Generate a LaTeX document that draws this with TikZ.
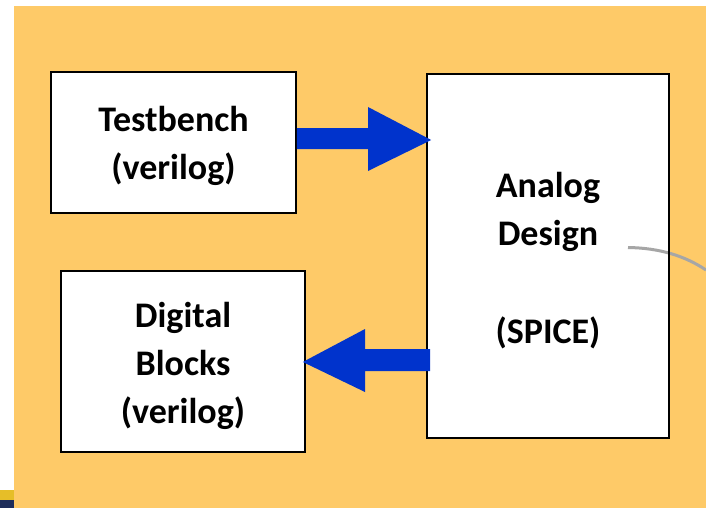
\documentclass[tikz,border=0pt]{standalone}
\usepackage{fontspec}
\setmainfont{Carlito}
\definecolor{panel}{RGB}{254,202,104}
\definecolor{flow}{RGB}{0,51,204}
\definecolor{wire}{RGB}{166,166,166}
\definecolor{edgeblue}{RGB}{30,45,90}
\definecolor{edgeyellow}{RGB}{230,190,40}
\begin{document}
\begin{tikzpicture}[x=1pt,y=-1pt,
  block/.style={draw=black,line width=1.6pt,fill=white},
  label/.style={font=\bfseries\fontsize{36}{48}\selectfont,align=center,text=black},
  fatarrow/.style={fill=flow,draw=none}]
\useasboundingbox (0,0) rectangle (706,508);
% background panel
\fill[white] (0,0) rectangle (706,508);
\fill[panel] (14,6) rectangle (706,508);
\fill[edgeyellow] (0,490) rectangle (14,500);
\fill[edgeblue] (0,500) rectangle (14,508);
% blocks
\node[block,minimum width=245pt,minimum height=141pt] (tb) at (173.5,142.5) {};
\node[block,minimum width=242pt,minimum height=364pt] (ad) at (548,256) {};
\node[block,minimum width=244pt,minimum height=181pt] (db) at (183,361.5) {};
% wire leaving the analog block
\coordinate (wireend) at (706,270);
\draw[wire,line width=3pt] (628,247.5) .. controls (660,248) and (685,256) .. (wireend);
\draw[black,line width=1.6pt] (669,74) -- (669,438);
% labels
\node[label] (tbtext) at (173.5,146) {Testbench\\(verilog)};
\node[label] (adtext) at (548,261) {Analog\\Design\\[50pt](SPICE)};
\node[label] (dbtext) at (183,366) {Digital\\Blocks\\(verilog)};
% block arrows
\fill[fatarrow] (tb.east |- 0,128) -- (368,128) -- (368,107) -- ([xshift=5pt]ad.west |- 0,140)
  -- (368,171) -- (368,149) -- (tb.east |- 0,149) -- cycle;
\fill[fatarrow] ([xshift=4pt]ad.west |- 0,349) -- (365,349) -- (365,329) -- ([xshift=-3pt]db.east |- 0,362)
  -- (365,392) -- (365,371) -- ([xshift=4pt]ad.west |- 0,371) -- cycle;
\end{tikzpicture}
\end{document}
